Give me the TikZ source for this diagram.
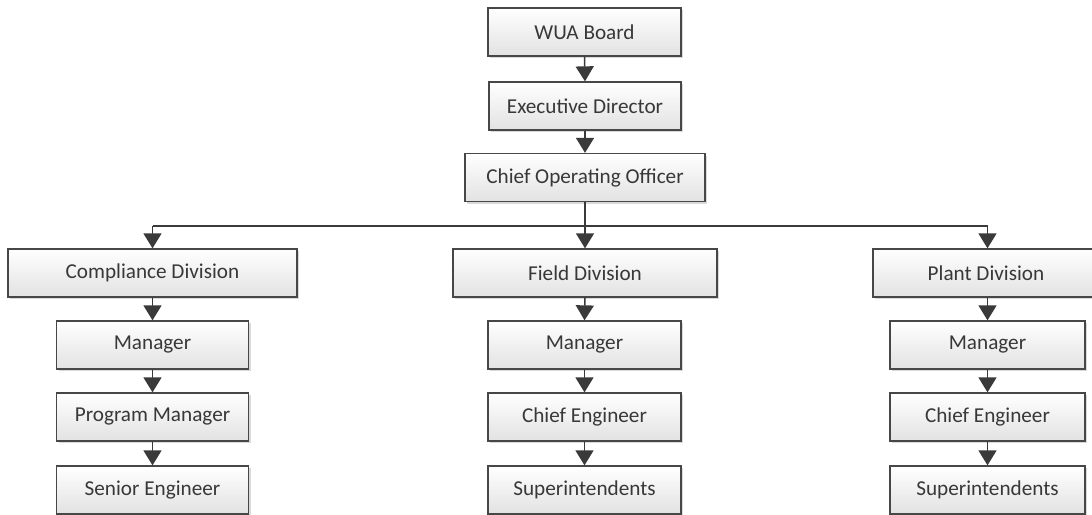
\documentclass[tikz,border=0pt]{standalone}
\usepackage{fontspec}
\setmainfont{Carlito}
\usetikzlibrary{arrows.meta,shadows}
\definecolor{boxline}{HTML}{474747}
\definecolor{boxbot}{HTML}{E2E2E2}
\definecolor{textc}{HTML}{383838}
\definecolor{linec}{HTML}{3A3A3A}
\begin{document}
\begin{tikzpicture}[x=1pt,y=-1pt,
  orgbox/.style={draw=boxline, line width=1.3pt, top color=white, bottom color=boxbot,
    minimum height=48pt, inner sep=0pt, text=textc,
    font=\fontsize{21.2}{25}\selectfont,
    drop shadow={shadow xshift=2pt, shadow yshift=-2pt, opacity=0.15, fill=black}},
  conn/.style={draw=linec, line width=1.5pt},
  arr/.style={conn, -{Triangle[width=18pt,length=15pt]}, fill=linec}]
\useasboundingbox (0,0) rectangle (1092,514);
\clip (0,0) rectangle (1092,514);
% top chain
\node[orgbox, minimum width=193pt] (wua) at (584.5,32) {WUA Board};
\node[orgbox, minimum width=192pt] (ed) at (585,106) {Executive Director};
\node[orgbox, minimum width=240pt] (coo) at (585,177.5) {Chief Operating Officer};
% divisions
\node[orgbox, minimum width=289pt] (comp) at (152.5,273) {Compliance Division};
\node[orgbox, minimum width=264pt] (field) at (585,273) {Field Division};
\node[orgbox, minimum width=226pt] (plant) at (986,273) {Plant Division};
% compliance column
\node[orgbox, minimum width=192pt] (m1) at (152.5,345) {Manager};
\node[orgbox, minimum width=192pt] (pm) at (152.5,417) {Program Manager};
\node[orgbox, minimum width=192pt] (se) at (152.5,490) {Senior Engineer};
% field column
\node[orgbox, minimum width=193pt] (m2) at (584.5,345) {Manager};
\node[orgbox, minimum width=193pt] (ce2) at (584.5,417) {Chief Engineer};
\node[orgbox, minimum width=193pt] (sup2) at (584.5,490) {Superintendents};
% plant column
\node[orgbox, minimum width=195pt] (m3) at (987.5,345) {Manager};
\node[orgbox, minimum width=195pt] (ce3) at (987.5,417) {Chief Engineer};
\node[orgbox, minimum width=195pt] (sup3) at (987.5,490) {Superintendents};
% connectors top
\draw[arr] (wua.south) -- (ed.north);
\draw[arr] (ed.south) -- (coo.north);
\draw[arr] (coo.south) -- (field.north);
\draw[conn] (coo.south) -- ++(0,24) coordinate (bus);
\coordinate (busL) at (bus -| comp.north);
\coordinate (busR) at (bus -| m3.north);
\draw[conn] (busL) -- (busR);
\draw[arr] (busL) -- (comp.north);
\draw[arr] (busR) -- (busR |- plant.north);
% compliance column
\draw[arr] (comp.south) -- (m1.north);
\draw[arr] (m1.south) -- (pm.north);
\draw[arr] (pm.south) -- (se.north);
% field column
\draw[arr] (field.south) -- (m2.north);
\draw[arr] (m2.south) -- (ce2.north);
\draw[arr] (ce2.south) -- (sup2.north);
% plant column
\draw[arr] (m3.north |- plant.south) -- (m3.north);
\draw[arr] (m3.south) -- (ce3.north);
\draw[arr] (ce3.south) -- (sup3.north);
\end{tikzpicture}
\end{document}
